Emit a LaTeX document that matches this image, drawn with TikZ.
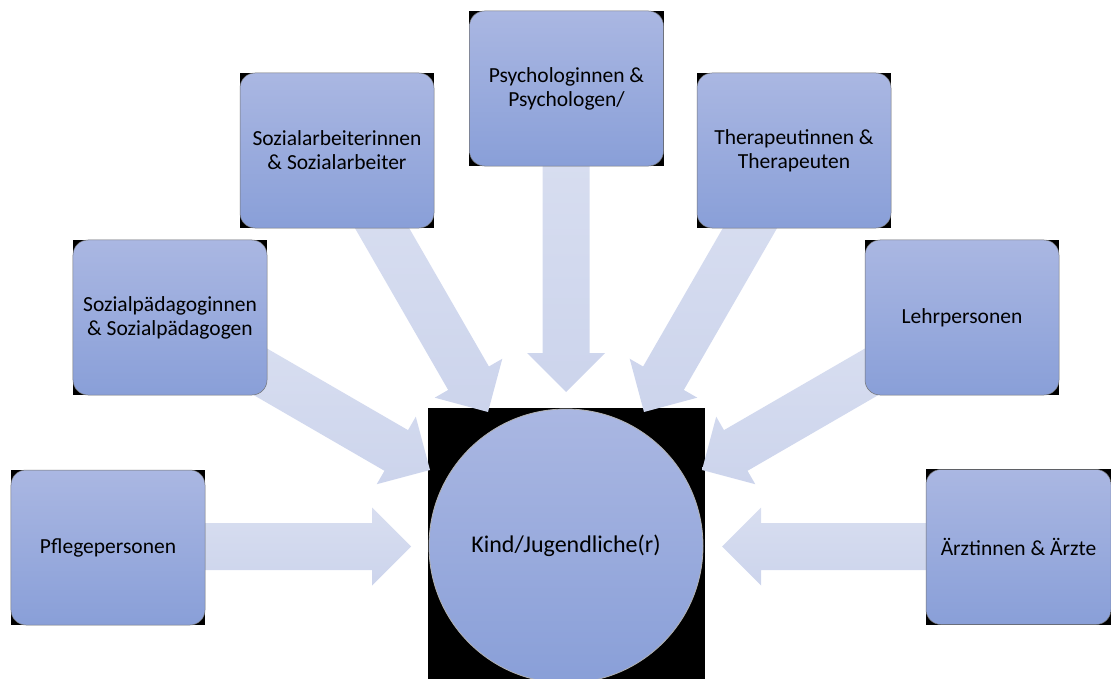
\documentclass[tikz,border=0pt]{standalone}
\usepackage{fontspec}
\setmainfont{Carlito}
\usetikzlibrary{calc}
\pgfdeclarelayer{bg}
\pgfdeclarelayer{arr}
\pgfsetlayers{bg,arr,main}
\definecolor{boxtop}{RGB}{170,183,226}
\definecolor{boxbot}{RGB}{137,159,216}
\definecolor{arrtop}{RGB}{216,222,240}
\definecolor{arrbot}{RGB}{204,212,236}
\tikzset{
  box/.style={rectangle, rounded corners=15bp, minimum width=194bp, minimum height=155bp,
    top color=boxtop, bottom color=boxbot, draw=black!55, line width=0.5bp,
    align=center, inner sep=0pt, font=\fontsize{21.5bp}{24bp}\selectfont},
  kidnode/.style={circle, minimum size=274bp, inner sep=0pt,
    top color=boxtop, bottom color=boxbot, draw=white!70!black, line width=0.8bp,
    font=\fontsize{24bp}{26bp}\selectfont},
  arrowfill/.style={top color=arrtop, bottom color=arrbot}
}
\newcommand{\blockarr}[2]{%
  \coordinate (#1-b) at ($(#2)!39bp!(#1)$);
  \shade[arrowfill] ($(#1)!23.5bp!90:(#2)$) -- ($(#1-b)!23.5bp!-90:(#1)$) -- ($(#1-b)!39bp!-90:(#1)$)
    -- (#2) -- ($(#1-b)!39bp!90:(#1)$) -- ($(#1-b)!23.5bp!90:(#1)$) -- ($(#1)!23.5bp!-90:(#2)$) -- cycle;
}
\begin{document}
\begin{tikzpicture}[x=1bp, y=-1bp]
\useasboundingbox (0,0) rectangle (1111,679);

% central node
\node[kidnode] (kid) at (566,546) {Kind/Jugendliche(r)};

% boxes
\node[box] (pflege) at (108,547.5) {Pflegepersonen};
\node[box] (spaed) at (170,317.5) {Sozialpädagoginnen\\\& Sozialpädagogen};
\node[box] (sarb) at (337,150.5) {Sozialarbeiterinnen\\\& Sozialarbeiter};
\node[box] (psy) at (566.5,88.5) {Psychologinnen \&\\Psychologen/};
\node[box] (ther) at (794,150.5) {Therapeutinnen \&\\Therapeuten};
\node[box] (lehr) at (962,317.5) {Lehrpersonen};
\node[box, minimum width=185bp] (arzt) at (1018.5,547) {Ärztinnen \& Ärzte};

% black backgrounds
\begin{pgfonlayer}{bg}
  \foreach \n in {pflege,spaed,sarb,psy,ther,lehr,arzt}{
    \fill[black] (\n.north west) rectangle (\n.south east);
  }
  \fill[black] (428,408) rectangle (705,679);
\end{pgfonlayer}

% arrows
\begin{pgfonlayer}{arr}
  \coordinate (t1) at (180,546.5);  \coordinate (h1) at (411,546.5);
  \coordinate (t2) at (240,360);    \coordinate (h2) at (430,470);
  \coordinate (t3) at (367,202);    \coordinate (h3) at (488,412);
  \coordinate (t4) at (566,140);    \coordinate (h4) at (566,392);
  \coordinate (t5) at (765,202);    \coordinate (h5) at (644,412);
  \coordinate (t6) at (892,360);    \coordinate (h6) at (702,470);
  \coordinate (t7) at (950,546.5);  \coordinate (h7) at (722,546.5);
  \blockarr{t1}{h1}
  \blockarr{t2}{h2}
  \blockarr{t3}{h3}
  \blockarr{t4}{h4}
  \blockarr{t5}{h5}
  \blockarr{t6}{h6}
  \blockarr{t7}{h7}
\end{pgfonlayer}
\end{tikzpicture}
\end{document}
